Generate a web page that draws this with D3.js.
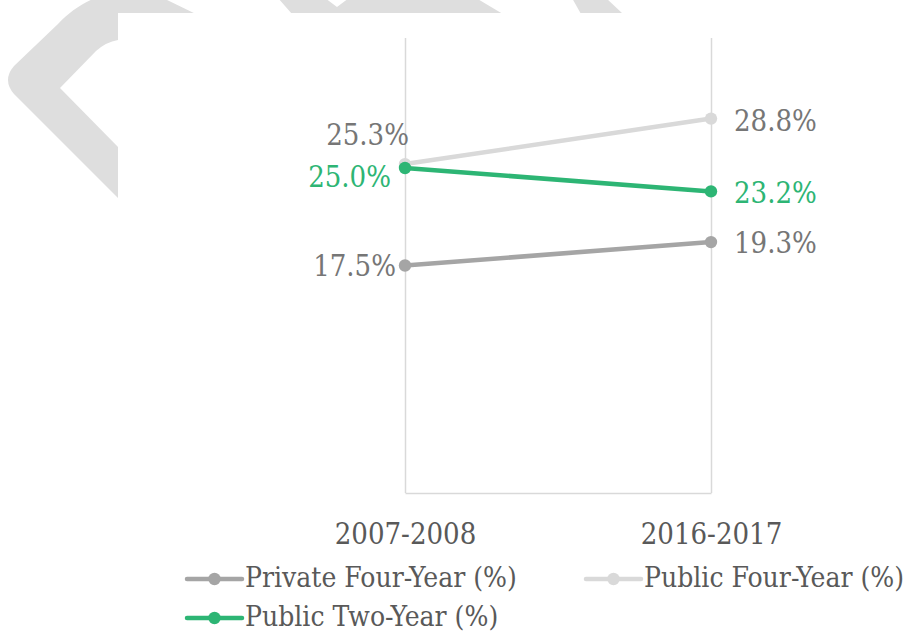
<!DOCTYPE html>
<html>
<head>
<meta charset="utf-8">
<script src="https://cdn.jsdelivr.net/npm/d3@7"></script>
<style>
  html, body { margin: 0; padding: 0; background: #ffffff; }
  svg { display: block; }
  svg text { font-stretch: condensed; }
</style>
</head>
<body>
<svg id="chart" width="908" height="635"></svg>
<script>
// Categories and series values (percent)
const categories = ["2007-2008", "2016-2017"];
const seriesNames = ["Private Four-Year (%)", "Public Four-Year (%)", "Public Two-Year (%)"];
const privateFourYear = [17.5, 19.3];
const publicFourYear = [25.3, 28.8];
const publicTwoYear = [25.0, 23.2];
const yDomain = [0, 35];

const FONT = "'DejaVu Serif Condensed', 'DejaVu Serif', serif";

// Styling per series
const seriesColors = ["#a5a5a5", "#d9d9d9", "#2db574"];
const labelColors = ["#767676", "#767676", "#2db574"];
// Label placement relative to each point: [first category, second category]
const labelOffsets = [
  [{dx: -9, dy: 10, anchor: "end"}, {dx: 23, dy: 11, anchor: "start"}],
  [{dx: 4, dy: -19, anchor: "end"}, {dx: 23, dy: 12, anchor: "start"}],
  [{dx: -14, dy: 19, anchor: "end"}, {dx: 23, dy: 12, anchor: "start"}]
];

const seriesValues = [privateFourYear, publicFourYear, publicTwoYear];
const series = seriesNames.map((name, i) => ({
  name,
  color: seriesColors[i],
  labelColor: labelColors[i],
  offsets: labelOffsets[i],
  values: categories.map((c, j) => ({cat: c, v: seriesValues[i][j]}))
}));

const svg = d3.select("#chart");

// Decorative background shapes behind the white chart panel
const deco = svg.append("g").attr("fill", "#dedede");
deco.append("path").attr("d",
  "M200,16 L165,-1 C125,-18 85,-5 58,24 L14,66 Q2,80 14,94 L118,198 L118,147 L60,88 L96,51 Q106,42 118,40 L118,30 Z");
deco.append("path").attr("d",
  "M278,-2 L325,-2 L337,7 L349,-2 L476,-2 L530,30 L306,30 Z");
deco.append("path").attr("d",
  "M572,-2 L606,-2 L640,30 L590,30 Z");
svg.append("rect").attr("x", 118).attr("y", 13).attr("width", 790).attr("height", 622).attr("fill", "#ffffff");

// Scales
const x = d3.scalePoint().domain(categories).range([405, 711]);
const y = d3.scaleLinear().domain(yDomain).range([493, 38]);

// Vertical gridlines at each category
const grid = svg.append("g")
  .attr("transform", `translate(0,${y(yDomain[0])})`)
  .call(d3.axisBottom(x).tickSize(-(y(yDomain[0]) - y(yDomain[1]))).tickSizeOuter(0).tickFormat(""));
grid.select(".domain").remove();
grid.selectAll("line").attr("stroke", "#d9d9d9").attr("stroke-width", 1.5);

// Category axis
const xAxis = svg.append("g")
  .attr("transform", `translate(0,${y(yDomain[0])})`)
  .call(d3.axisBottom(x).tickSize(0).tickSizeOuter(0).tickPadding(30))
  .attr("font-family", FONT)
  .attr("font-size", 29);
xAxis.select(".domain").attr("stroke", "#d9d9d9").attr("stroke-width", 1.5);
xAxis.selectAll("text").attr("fill", "#595959");

// Lines and markers, green series drawn last
const drawOrder = [1, 0, 2];
const line = d3.line().x(d => x(d.cat)).y(d => y(d.v));
drawOrder.forEach(i => {
  const s = series[i];
  const g = svg.append("g");
  g.append("path")
    .datum(s.values)
    .attr("d", line)
    .attr("fill", "none")
    .attr("stroke", s.color)
    .attr("stroke-width", 4.5)
    .attr("stroke-linecap", "round");
  g.selectAll("circle").data(s.values).join("circle")
    .attr("cx", d => x(d.cat))
    .attr("cy", d => y(d.v))
    .attr("r", 6.2)
    .attr("fill", s.color);
});

// Value labels
series.forEach(s => {
  svg.append("g")
    .attr("font-family", FONT)
    .attr("font-size", 29)
    .selectAll("text").data(s.values).join("text")
    .attr("x", (d, j) => x(d.cat) + s.offsets[j].dx)
    .attr("y", (d, j) => y(d.v) + s.offsets[j].dy)
    .attr("text-anchor", (d, j) => s.offsets[j].anchor)
    .attr("fill", s.labelColor)
    .text(d => d.v.toFixed(1) + "%");
});

// Legend
const legendPos = [[187, 579], [586, 579], [187, 618]];
series.forEach((s, i) => {
  const [lx, ly] = legendPos[i];
  const g = svg.append("g").attr("transform", `translate(${lx},${ly})`);
  g.append("line").attr("x1", 0).attr("x2", 55).attr("y1", 0).attr("y2", 0)
    .attr("stroke", s.color).attr("stroke-width", 4.5).attr("stroke-linecap", "round");
  g.append("circle").attr("cx", 27.5).attr("cy", 0).attr("r", 6.2).attr("fill", s.color);
  g.append("text").attr("x", 58).attr("y", 8)
    .attr("font-family", FONT)
    .attr("font-size", 28)
    .attr("fill", "#595959")
    .text(s.name);
});
</script>
</body>
</html>
